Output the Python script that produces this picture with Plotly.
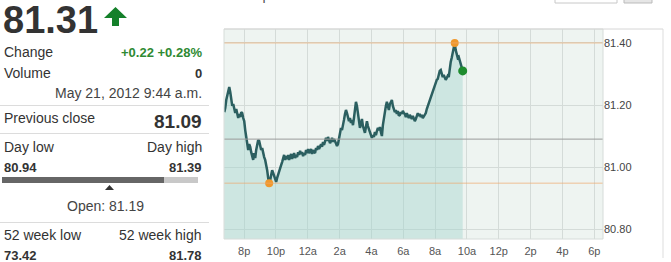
import pandas as pd
import plotly.graph_objects as go

# ---------------- data ----------------
prices = [
    81.177, 81.190, 81.216, 81.229, 81.248, 81.258, 81.242, 81.216, 81.197, 81.203,
    81.184, 81.174, 81.187, 81.168, 81.158, 81.171, 81.161, 81.177, 81.174, 81.158,
    81.148, 81.119, 81.094, 81.068, 81.055, 81.074, 81.065, 81.048, 81.039, 81.023,
    81.045, 81.029, 81.055, 81.068, 81.087, 81.084, 81.068, 81.055, 81.061, 81.042,
    81.032, 81.023, 81.010, 80.990, 80.965, 80.948, 80.958, 80.977, 80.990, 80.981,
    80.971, 80.958, 80.952, 80.965, 80.977, 80.990, 81.000, 81.006, 81.016, 81.032,
    81.039, 81.023, 81.035, 81.026, 81.039, 81.023, 81.032, 81.042, 81.026, 81.035,
    81.045, 81.029, 81.039, 81.032, 81.048, 81.039, 81.052, 81.042, 81.048, 81.035,
    81.045, 81.039, 81.055, 81.045, 81.058, 81.045, 81.052, 81.058, 81.042, 81.055,
    81.048, 81.045, 81.061, 81.055, 81.068, 81.058, 81.065, 81.074, 81.065, 81.081,
    81.071, 81.084, 81.094, 81.084, 81.097, 81.087, 81.077, 81.084, 81.094, 81.081,
    81.090, 81.084, 81.077, 81.068, 81.074, 81.097, 81.116, 81.126, 81.119, 81.132,
    81.152, 81.171, 81.184, 81.174, 81.161, 81.148, 81.158, 81.142, 81.152, 81.135,
    81.158, 81.177, 81.210, 81.197, 81.177, 81.145, 81.126, 81.139, 81.155, 81.132,
    81.116, 81.110, 81.129, 81.148, 81.132, 81.123, 81.116, 81.106, 81.094, 81.103,
    81.097, 81.113, 81.103, 81.116, 81.126, 81.119, 81.129, 81.113, 81.100, 81.135,
    81.161, 81.177, 81.197, 81.210, 81.194, 81.184, 81.203, 81.213, 81.216, 81.197,
    81.187, 81.177, 81.184, 81.171, 81.181, 81.165, 81.168, 81.177, 81.171, 81.181,
    81.174, 81.171, 81.161, 81.174, 81.165, 81.158, 81.168, 81.161, 81.155, 81.165,
    81.158, 81.148, 81.155, 81.165, 81.174, 81.165, 81.171, 81.161, 81.168, 81.158,
    81.165, 81.171, 81.174, 81.187, 81.197, 81.206, 81.216, 81.226, 81.235, 81.239,
    81.255, 81.261, 81.271, 81.281, 81.284, 81.300, 81.310, 81.313, 81.303, 81.290,
    81.297, 81.290, 81.281, 81.287, 81.294, 81.290, 81.319, 81.339, 81.352, 81.371,
    81.387, 81.400, 81.377, 81.361, 81.352, 81.355, 81.342, 81.332, 81.323, 81.310,
]
session_start = "2012-05-20 18:45"
session_last = "2012-05-21 09:44"
prev_close = 81.09

tick_times = ["2012-05-20 20:00", "2012-05-20 22:00", "2012-05-21 00:00", "2012-05-21 02:00",
              "2012-05-21 04:00", "2012-05-21 06:00", "2012-05-21 08:00", "2012-05-21 10:00",
              "2012-05-21 12:00", "2012-05-21 14:00", "2012-05-21 16:00", "2012-05-21 18:00"]
tick_labels = ["8p", "10p", "12a", "2a", "4a", "6a", "8a", "10a", "12p", "2p", "4p", "6p"]
y_ticks = [80.8, 81.0, 81.2, 81.4]

last_price = "81.31"
change_text = "+0.22 +0.28%"
volume_text = "0"
timestamp_text = "May 21, 2012 9:44 a.m."
prev_close_text = "81.09"
day_low_text, day_high_text = "80.94", "81.39"
open_text = "Open: 81.19"
wk52_low_text, wk52_high_text = "73.42", "81.78"

# ---------------- figure ----------------
times = pd.date_range(session_start, session_last, periods=len(prices))
s = pd.Series(prices, index=times)
hi_t, lo_t = s.idxmax(), s.idxmin()

FW, FH = 671, 262
L, R, T, B = 224, 603, 29, 239
W, H = R - L, B - T


def px(x):
    return (x - L) / W


def py(y):
    return (B - y) / H


FONT = "Liberation Sans, Arial, sans-serif"
TXT = "#333333"

fig = go.Figure()
fig.add_trace(go.Scatter(
    x=times, y=prices, mode="lines",
    line=dict(color="#2b5f60", width=2.5),
    fill="tozeroy", fillcolor="rgba(165,212,207,0.45)",
    hoverinfo="skip", showlegend=False))
fig.add_trace(go.Scatter(
    x=[hi_t, lo_t], y=[s.max(), s.min()], mode="markers",
    marker=dict(color="#f0982c", size=8), hoverinfo="skip", showlegend=False))
fig.add_trace(go.Scatter(
    x=[times[-1]], y=[prices[-1]], mode="markers",
    marker=dict(color="#1e8c2e", size=9), hoverinfo="skip", showlegend=False))

shapes = []
# reference lines
for v, c in [(s.max(), "rgba(238,170,110,0.7)"), (s.min(), "rgba(238,170,110,0.7)"), (prev_close, "#9a9a9a")]:
    shapes.append(dict(type="line", xref="paper", yref="y", x0=0, x1=1, y0=v, y1=v,
                       line=dict(color=c, width=1), layer="above"))
# plot & panel borders
shapes.append(dict(type="rect", xref="paper", yref="paper", x0=0, x1=1, y0=0, y1=1,
                   line=dict(color="#d6dcd9", width=1)))
shapes.append(dict(type="line", xref="paper", yref="paper", x0=px(224), x1=px(663), y0=py(29), y1=py(29),
                   line=dict(color="#d6d6d6", width=1)))
shapes.append(dict(type="line", xref="paper", yref="paper", x0=px(663), x1=px(663), y0=py(29), y1=py(258),
                   line=dict(color="#dddddd", width=1)))
# top controls (cut off)
shapes.append(dict(type="rect", xref="paper", yref="paper", x0=px(555), x1=px(617), y0=py(-10), y1=py(3),
                   line=dict(color="#c8c8c8", width=1), fillcolor="white"))
shapes.append(dict(type="rect", xref="paper", yref="paper", x0=px(624), x1=px(652), y0=py(-10), y1=py(3),
                   line=dict(color="#bbbbbb", width=1), fillcolor="#e6e6e6"))
# left panel separators
for yy in [105.5, 133.5, 222.5]:
    shapes.append(dict(type="line", xref="paper", yref="paper", x0=px(0), x1=px(209), y0=py(yy), y1=py(yy),
                       line=dict(color="#dcdcdc", width=1)))
# day range bar
shapes.append(dict(type="rect", xref="paper", yref="paper", x0=px(2), x1=px(164), y0=py(183), y1=py(177),
                   line=dict(width=0), fillcolor="#666666"))
shapes.append(dict(type="rect", xref="paper", yref="paper", x0=px(164), x1=px(198), y0=py(183), y1=py(177),
                   line=dict(width=0), fillcolor="#c8c8c8"))
# open marker triangle
tri = [(109.5, 185), (114, 190), (105, 190)]
shapes.append(dict(type="path", xref="paper", yref="paper",
                   path="M " + " L ".join(f"{px(a):.5f},{py(b):.5f}" for a, b in tri) + " Z",
                   fillcolor="#333333", line=dict(width=0)))
# green up arrow
arr = [(115.5, 7), (127, 18), (119, 18), (119, 26), (112, 26), (112, 18), (104, 18)]
shapes.append(dict(type="path", xref="paper", yref="paper",
                   path="M " + " L ".join(f"{px(a):.5f},{py(b):.5f}" for a, b in arr) + " Z",
                   fillcolor="#14802a", line=dict(width=0)))

ann = []


def text(t, x, y, size=14, bold=False, color=TXT, anchor="left"):
    ann.append(dict(text=f"<b>{t}</b>" if bold else t, x=px(x), y=py(y), xref="paper", yref="paper",
                    xanchor=anchor, yanchor="middle", showarrow=False,
                    font=dict(family=FONT, size=size, color=color)))


text(last_price, 1, 20, size=38, bold=True)
text("Change", 2, 52)
text(change_text, 204, 52, size=13, bold=True, color="#2f8a33", anchor="right")
text("Volume", 2, 73)
text(volume_text, 204, 73, size=13, bold=True, anchor="right")
text(timestamp_text, 204, 93, color="#444444", anchor="right")
text("Previous close", 2, 118)
text(prev_close_text, 204, 121, size=19, bold=True, anchor="right")
text("Day low", 2, 147)
text("Day high", 204, 147, anchor="right")
text(day_low_text, 2, 167, size=13, bold=True)
text(day_high_text, 204, 167, size=13, bold=True, anchor="right")
text(open_text, 105, 206, color="#444444", anchor="center")
text("52 week low", 2, 235)
text("52 week high", 204, 235, anchor="right")
text(wk52_low_text, 2, 255, size=13, bold=True)
text(wk52_high_text, 204, 255, size=13, bold=True, anchor="right")
text("Compare: Indices", 231, -5, size=14, color="#555555")

fig.update_layout(
    width=FW, height=FH, autosize=False,
    margin=dict(l=L, r=FW - R, t=T, b=FH - B, pad=0, autoexpand=False),
    paper_bgcolor="white", plot_bgcolor="#eef4f1",
    shapes=shapes, annotations=ann, showlegend=False,
    font=dict(family=FONT, color="#444444", size=11),
    xaxis=dict(type="date", range=["2012-05-20 18:44", "2012-05-21 18:33"],
               tickvals=tick_times, ticktext=tick_labels, showgrid=True, gridcolor="#d4dbd8",
               gridwidth=1, zeroline=False, showline=False,
               ticks="outside", ticklen=2, tickcolor="rgba(0,0,0,0)", automargin=False,
               tickfont=dict(size=11, color="#555555", family=FONT), fixedrange=True),
    yaxis=dict(range=[80.768, 81.445], side="right", tickvals=y_ticks, tickformat=".2f",
               showgrid=True, gridcolor="#d4dbd8", gridwidth=1, zeroline=False, showline=False,
               ticks="", automargin=False,
               tickfont=dict(size=11, color="#444444", family=FONT), fixedrange=True),
)

fig.write_html("out.html", config=dict(displayModeBar=False))
